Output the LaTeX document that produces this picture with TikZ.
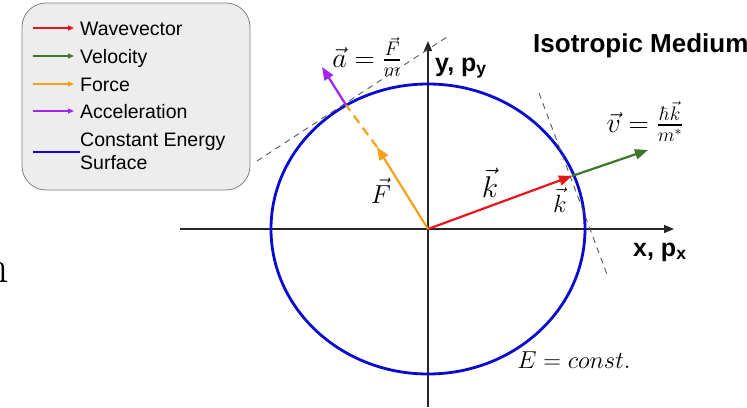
\RequirePackage{fix-cm}
\documentclass[tikz,border=0pt]{standalone}
\usepackage{amsmath,amssymb}
\usepackage{fontspec}
\setsansfont{Liberation Sans}
\usepackage{tikz}
\usetikzlibrary{arrows.meta,positioning,calc}
\usepackage{xcolor}
\definecolor{kred}{HTML}{E8161B}
\definecolor{vgreen}{HTML}{3A7A24}
\definecolor{forange}{HTML}{F5A216}
\definecolor{apurple}{HTML}{A323F0}
\definecolor{eblue}{HTML}{0A0AD2}
\definecolor{boxgray}{HTML}{EDEDED}
\newcommand{\fsz}[2]{\fontsize{#1}{#2}\selectfont}

\tikzset{
  vecarrow/.style={line width=2.2pt, -{Triangle[length=13pt,width=10pt]}},
  legarrow/.style={line width=1.4pt, shorten >=6pt, -{Triangle[length=6pt,width=5pt]}},
  axisline/.style={line width=1.3pt, black!85, -{Triangle[length=10pt,width=8pt]}},
  tangentline/.style={black!65, line width=0.9pt, dash pattern=on 6pt off 5pt},
  legtext/.style={font=\sffamily\fsz{19.5}{23}, inner sep=0pt},
  axlabel/.style={font=\sffamily\bfseries\fsz{25}{30}, inner sep=0pt},
  mathlabel/.style={inner sep=0pt, anchor=base},
}

\begin{document}
\begin{tikzpicture}[x=1pt,y=-1pt]
  \useasboundingbox (0,0) rectangle (747,407);

  % 凡例
  \draw[rounded corners=24pt, fill=boxgray, draw=black!50, line width=0.8pt]
    (22,3) rectangle (250,190);
  \foreach \col/\lab/\y [count=\i] in {kred/Wavevector/35, vgreen/Velocity/63,
                                      forange/Force/91, apurple/Acceleration/118} {
    \node[legtext, anchor=base west] (leg\i) at (80,\y) {\lab};
    \coordinate (legs\i) at (33,\y-7);
    \draw[legarrow, \col] (legs\i) -- (legs\i -| leg\i.west);
  }
  \node[legtext, anchor=north west, align=left] (legE) at (80,133) {Constant Energy\\Surface};
  \coordinate (legsE) at (33,152);
  \draw[eblue, line width=1.4pt] (legsE) -- (legsE -| legE.west);

  % 切れた文字
  \node[font=\rmfamily\fsz{46}{50}, anchor=base east, inner sep=0pt] (cut) at (9,282) {n};

  % 座標軸
  \coordinate (O) at (428,229);
  \coordinate (xs) at (180,229);
  \coordinate (xe) at (674,229);
  \coordinate (ys) at (428,407);
  \coordinate (ye) at (428,41);
  \draw[axisline] (xs) -- (xe);
  \draw[axisline] (ys) -- (ye);
  \node[axlabel, anchor=base west] (xlab) at (633,256) {x, p\textsubscript{x}};
  \node[axlabel, anchor=base west] (ylab) at (435,71) {y, p\textsubscript{y}};
  \node[axlabel, font=\sffamily\bfseries\fsz{26}{30}, anchor=base west] (title) at (533,52) {Isotropic Medium};

  % 等エネルギー面
  \draw[eblue, line width=2.8pt] (O) ellipse [x radius=157, y radius=145];
  \node[mathlabel, font=\fsz{24.5}{28}] (Elab) at (574,368) {$E = const.$};

  % 波数ベクトルと速度
  \coordinate (K) at (572,176);
  \coordinate (V) at (648,150);
  \coordinate (tR1) at (539,93);
  \coordinate (tR2) at (608,277);
  \draw[tangentline] (tR1) -- (tR2);
  \draw[vecarrow, vgreen] (K) -- (V);
  \draw[vecarrow, kred] (O) -- (K);
  \node[mathlabel, font=\fsz{30}{34}] (kbig) at (490,197) {$\vec{k}$};
  \node[mathlabel, font=\fsz{25}{28}] (ksmall) at (560,212) {$\vec{k}$};
  \node[mathlabel, font=\fsz{28}{32}] (vlab) at (645,132) {$\vec{v} = \frac{\hbar\vec{k}}{m^*}$};

  % 力と加速度
  \coordinate (A) at (346,105);
  \coordinate (Ft) at (377,147);
  \coordinate (At) at (322,67);
  \coordinate (tL1) at (257,161);
  \coordinate (tL2) at (450,35);
  \draw[tangentline] (tL1) -- (tL2);
  \draw[vecarrow, forange] (O) -- (Ft);
  \draw[forange, line width=2.2pt, dash pattern=on 9pt off 6pt] (Ft) -- (A);
  \draw[vecarrow, apurple] (A) -- (At);
  \node[mathlabel, font=\fsz{26}{30}] (Flab) at (381,203) {$\vec{F}$};
  \node[mathlabel, font=\fsz{28}{32}] (alab) at (367,67) {$\vec{a} = \frac{\vec{F}}{m}$};
\end{tikzpicture}
\end{document}
